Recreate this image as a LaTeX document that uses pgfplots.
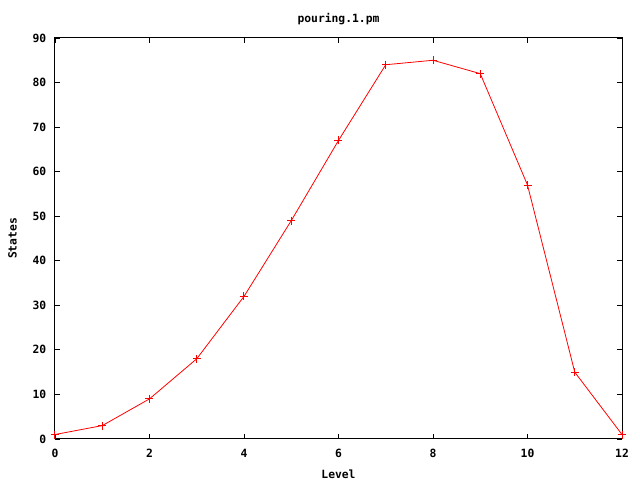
\documentclass[border=0pt]{standalone}
\usepackage{pgfplots}
\pgfplotsset{compat=1.18}
\usepackage{fontspec}
\setmainfont{DejaVu Sans Mono}
\begin{document}
\begin{tikzpicture}
\begin{axis}[
  scale only axis,
  width=425.25pt, height=300.75pt,
  xmin=0, xmax=12, ymin=0, ymax=90,
  xtick={0,2,...,12}, ytick={0,10,...,90},
  tick align=inside, major tick length=4pt,
  tick style={black, line width=0.6pt},
  axis line style={black, line width=0.75pt},
  /pgf/number format/assume math mode=true,
  tick label style={font=\fontsize{8.5pt}{10pt}\selectfont\bfseries},
  xticklabel style={yshift=-4pt},
  yticklabel style={xshift=-3pt},
  label style={font=\fontsize{8.5pt}{10pt}\selectfont\bfseries},
  title style={font=\fontsize{8.5pt}{10pt}\selectfont\bfseries, yshift=0pt},
  title={pouring.1.pm},
  xlabel={Level}, ylabel={States},
  xlabel style={yshift=-2pt},
  ylabel style={yshift=5pt},
  clip=false,
]
\addplot[red, line width=0.6pt, mark=+, mark size=3pt, mark options={line width=0.75pt}] coordinates {
(0,1) (1,3) (2,9) (3,18) (4,32) (5,49) (6,67) (7,84) (8,85) (9,82) (10,57) (11,15) (12,1)
};
\end{axis}
\path ([shift={(-41.25pt,-30.75pt)}]current axis.south west) rectangle ([shift={(13.5pt,28.5pt)}]current axis.north east);
\end{tikzpicture}
\end{document}
